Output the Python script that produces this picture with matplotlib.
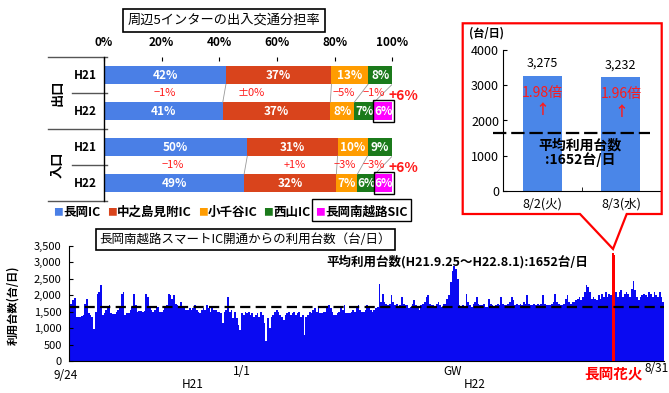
import numpy as np
import pandas as pd
import matplotlib.pyplot as plt
import matplotlib.transforms as mtransforms
from matplotlib.patches import Rectangle, Polygon
from matplotlib.lines import Line2D
from matplotlib.ticker import FuncFormatter

plt.rcParams['font.family'] = ['Noto Sans CJK JP', 'DejaVu Sans']

# 周辺5インターの出入交通分担率 (%)
ic_names = ['長岡IC', '中之島見附IC', '小千谷IC', '西山IC', '長岡南越路SIC']
ic_colors = ['#4a7fe6', '#d9441c', '#ff9c00', '#1b7a1b', '#ff00ff']
group_names = ['出口', '入口']
year_names = ['H21', 'H22']
share_exit_h21 = [42.3, 36.6, 12.7, 8.4, 0.0]
share_exit_h22 = [41.2, 37.3, 8.3, 6.9, 6.3]
share_entry_h21 = [49.7, 31.3, 10.4, 8.6, 0.0]
share_entry_h22 = [48.6, 32.0, 7.3, 6.1, 6.0]

# 長岡花火の2日間
fireworks_days = ['8/2(火)', '8/3(水)']
fireworks_counts = [3275, 3232]
avg_count = 1652

# 開通からの日別利用台数 (H21.9.24 ~ H22.8.31)
start_date = '2009-09-24'
end_date = '2010-08-31'
daily_counts = [
    640, 1750, 1850, 1930, 1350, 1340, 1350, 1370, 1400, 1750,
    1900, 1450, 1400, 1350, 980, 1500, 2050, 2100, 2300, 1400,
    1450, 1550, 1650, 1700, 1450, 1420, 1430, 1500, 1550, 1600,
    2050, 2100, 1400, 1450, 1450, 1550, 1650, 2050, 1700, 1500,
    1520, 1520, 1500, 1520, 2050, 1950, 1600, 1550, 1500, 1550,
    1600, 1650, 1500, 1480, 1550, 1600, 1700, 2050, 2000, 1900,
    2000, 1750, 1700, 1650, 1800, 1650, 1600, 1550, 1550, 1600,
    1550, 1600, 1700, 1550, 1500, 1450, 1550, 1600, 1550, 1700,
    1600, 1500, 1600, 1550, 1550, 1500, 1500, 1450, 1150, 1500,
    1550, 1950, 1500, 1550, 1300, 1500, 1300, 1100, 950, 1450,
    1400, 1500, 1450, 1480, 1400, 1450, 1350, 1400, 1450, 1350,
    1500, 1400, 1150, 600, 1300, 1000, 1350, 1400, 1500, 1550,
    1500, 1400, 1350, 1250, 1400, 1450, 1500, 1400, 1450, 1500,
    1400, 1450, 1500, 1350, 1400, 800, 1350, 1400, 1500, 1450,
    1550, 1600, 1500, 1650, 1450, 1450, 1500, 1500, 1600, 1700,
    1600, 1500, 1400, 1400, 1450, 1500, 1600, 1550, 1700, 1450,
    1450, 1450, 1500, 1550, 1500, 1650, 1700, 1550, 1500, 1500,
    1550, 1700, 1600, 1550, 1500, 1550, 1600, 1650, 2350, 1800,
    2050, 1800, 1750, 1700, 1750, 2000, 1800, 1700, 1750, 1650,
    1700, 1950, 1750, 1700, 1700, 1600, 1650, 1750, 1850, 1700,
    1650, 1550, 1700, 1750, 1800, 1950, 2000, 1750, 1700, 1700,
    1650, 1750, 1800, 1700, 1650, 1750, 1750, 1900, 2000, 2400,
    2750, 2900, 2800, 2500, 1700, 1600, 1700, 1650, 2050, 1800,
    1700, 1650, 1750, 1800, 1950, 1750, 1700, 1700, 1750, 1650,
    1650, 1900, 1750, 1700, 1650, 1700, 1750, 1700, 1950, 1750,
    1700, 1700, 1750, 1800, 1950, 1850, 1700, 1750, 1700, 1750,
    1700, 1800, 1750, 2000, 1750, 1700, 1700, 1750, 1700, 1750,
    1700, 1750, 2000, 1750, 1700, 1700, 1700, 1750, 1800, 2050,
    1800, 1750, 1700, 1700, 1750, 1900, 2000, 1800, 1750, 1800,
    1800, 1850, 1900, 1950, 1850, 1950, 2100, 2300, 2250, 2100,
    1900, 1950, 1900, 1850, 2000, 1900, 2050, 1950, 2100, 1950,
    2050, 2000, 3275, 3232, 2100, 1950, 2100, 2150, 1950, 2050,
    2100, 2050, 1950, 2200, 2450, 2150, 1950, 1850, 1950, 2000,
    2050, 2000, 1950, 2100, 2050, 1950, 2100, 2000, 1950, 2100,
    1950, 1800,
]
highlight_dates = ['2010-08-02', '2010-08-03']
tick_dates = ['2009-09-24', '2010-01-01', '2010-05-02', '2010-08-31']
tick_labels = ['9/24', '1/1', 'GW', '8/31']
year_label_dates = ['2009-12-04', '2010-05-15']
year_labels = ['H21', 'H22']

W, H = 669, 393


def fx(px):
    return px / W


def fy(py):
    return 1 - py / H


fig = plt.figure(figsize=(W / 100, H / 100), dpi=100)

# ---------------- 分担率 ----------------
ax1 = fig.add_axes([fx(104), fy(201), fx(392.3) - fx(104), fy(57.3) - fy(201)])
rows = [share_exit_h21, share_exit_h22, share_entry_h21, share_entry_h22]
for i, shares in enumerate(rows):
    left = 0
    for j, v in enumerate(shares):
        if v > 0:
            ax1.barh(i, v, left=left, height=0.5, color=ic_colors[j], edgecolor='none')
            ax1.text(left + v / 2, i, f'{round(v)}%', ha='center', va='center',
                     color='white', fontsize=8.5, fontweight='bold')
        left += v

diff_x = [[21, 51, 83, 93.5, 104], [24, 66, 83.5, 93.5, 104]]
for g in range(2):
    a, b = rows[2 * g], rows[2 * g + 1]
    ya, yb = 2 * g, 2 * g + 1
    ca, cb = np.cumsum(a), np.cumsum(b)
    for k in range(4):
        ax1.plot([ca[k], cb[k]], [ya + 0.25, yb - 0.25], color='#999999', lw=0.6)
    for k in range(5):
        d = round(b[k]) - round(a[k])
        if d == 0:
            s = '±0%'
        elif d > 0:
            s = f'+{d}%'
        else:
            s = f'−{-d}%'
        if k == 4:
            ax1.text(diff_x[g][k], ya + 0.57, s, ha='center', va='center', color='#ff1a1a',
                     fontsize=10, fontweight='bold', clip_on=False)
        else:
            ax1.text(diff_x[g][k], ya + 0.5, s, ha='center', va='center', color='#ff1a1a',
                     fontsize=8)
    ax1.add_patch(Rectangle((cb[3] - 0.3, yb - 0.31), b[4] + 1.0, 0.62, fill=False,
                            ec='black', lw=1.0, clip_on=False, zorder=5))

ax1.set_xlim(0, 100)
ax1.set_ylim(3.5, -0.5)
ax1.xaxis.tick_top()
ax1.set_xticks(range(0, 101, 20))
ax1.set_xticklabels([f'{v}%' for v in range(0, 101, 20)], fontsize=8.5, fontweight='bold')
ax1.tick_params(axis='x', direction='in', length=3, pad=6)
ax1.set_yticks([])
for s in ['top', 'right', 'bottom']:
    ax1.spines[s].set_visible(False)
ax1.spines['left'].set_linewidth(1.0)

tr = mtransforms.blended_transform_factory(ax1.transAxes, ax1.transData)
for y in [-0.5, 1.5, 3.5]:
    ax1.add_line(Line2D([-0.193, 0.009], [y, y], transform=tr, color='#555555', lw=1.0, clip_on=False))
for y in [0.5, 2.5]:
    ax1.add_line(Line2D([-0.112, 0.009], [y, y], transform=tr, color='#555555', lw=1.0, clip_on=False))
for i in range(4):
    ax1.text(-0.066, i, year_names[i % 2], transform=tr, ha='center', va='center',
             fontsize=8.5, fontweight='bold')
for g in range(2):
    ax1.text(-0.16, 2 * g + 0.5, group_names[g], transform=tr, ha='center', va='center',
             fontsize=9.5, fontweight='bold', rotation=90)

fig.text(fx(224), fy(20.5), '周辺5インターの出入交通分担率', ha='center', va='center', fontsize=9.5,
         bbox=dict(boxstyle='square,pad=0.35', fc='white', ec='black', lw=1.2))

# legend
leg_x = [53, 107, 198, 263, 315]
for x, name, c in zip(leg_x, ic_names, ic_colors):
    fig.text(fx(x), fy(212), '■', color=c, ha='left', va='center', fontsize=7)
    fig.text(fx(x + 10), fy(212), name, ha='left', va='center', fontsize=9, fontweight='bold')
fig.patches.append(Rectangle((fx(312), fy(221)), fx(411) - fx(312), fy(199) - fy(221),
                             transform=fig.transFigure, fill=False, ec='black', lw=1.0))

# ---------------- 長岡花火 inset ----------------
ax2 = fig.add_axes([fx(503.3), fy(191), fx(660) - fx(503.3), fy(50) - fy(191)])
ax2.set_facecolor('none')
xp = np.arange(len(fireworks_counts))
ax2.bar(xp, fireworks_counts, width=0.5, color='#4a86e8')
ax2.set_xlim(-0.5, 1.5)
ax2.set_ylim(0, 4000)
ax2.set_yticks(range(0, 4001, 1000))
ax2.set_xticks(xp)
ax2.set_xticklabels(fireworks_days, fontsize=9)
ax2.set_xticks([0.5], minor=True)
ax2.tick_params(axis='x', which='major', length=0, pad=5)
ax2.tick_params(axis='x', which='minor', length=3, direction='in')
ax2.tick_params(axis='y', direction='in', length=3, labelsize=9, pad=3)
for s in ['top', 'right']:
    ax2.spines[s].set_visible(False)
for i, v in enumerate(fireworks_counts):
    ax2.text(i, v + 350, f'{v:,}', ha='center', va='center', fontsize=9)
    ax2.text(i, v - 490, f'{v / avg_count:.2f}倍', ha='center', va='center', fontsize=10,
             color='#ff1a1a')
    ax2.text(i, v - 980, '↑', ha='center', va='center', fontsize=10, color='#ff1a1a',
             fontweight='bold')
ax2.plot([-0.63, 1.37], [avg_count, avg_count], color='black', lw=1.6,
         dashes=(6, 2.2), clip_on=False)
ax2.text(0.48, 1285, '平均利用台数', ha='center', va='center', fontsize=10, fontweight='bold')
ax2.text(0.48, 880, ':1652台/日', ha='center', va='center', fontsize=10, fontweight='bold')
fig.text(fx(487), fy(33), '(台/日)', ha='center', va='center', fontsize=8, fontweight='bold')

callout = [(462.7, 23.3), (661.7, 23.3), (661.7, 214), (626.7, 214), (613, 249),
           (580, 214), (462.7, 214)]
fig.patches.append(Polygon([(fx(a), fy(b)) for a, b in callout], closed=True,
                           transform=fig.transFigure, fill=False, ec='#ff0000', lw=1.6))

# ---------------- 日別利用台数 ----------------
dates = pd.date_range(start_date, end_date)
ax3 = fig.add_axes([fx(68.7), fy(361), fx(664) - fx(68.7), fy(246) - fy(361)])
days = np.arange(len(dates))
hl = dates.isin(pd.to_datetime(highlight_dates))
colors = np.where(hl, '#ff0000', '#0a0af2')
ax3.bar(days, daily_counts, width=1.0, color=colors, linewidth=0)
ax3.axhline(avg_count, color='black', lw=1.6, dashes=(4.6, 2.4))
ax3.set_xlim(-0.5, len(dates) - 0.5)
ax3.set_ylim(0, 3500)
ax3.set_yticks(range(0, 3501, 500))
ax3.yaxis.set_major_formatter(FuncFormatter(lambda v, p: f'{int(v):,}'))
ax3.tick_params(axis='y', direction='in', length=3, labelsize=8, pad=5)
tick_pos = [dates.get_loc(pd.Timestamp(d)) for d in tick_dates]
ax3.set_xticks(tick_pos)
ax3.set_xticklabels(tick_labels, fontsize=8.5)
ax3.tick_params(axis='x', length=0, pad=3)
first = ax3.get_xticklabels()[0]
first.set_transform(first.get_transform() + mtransforms.ScaledTranslation(-3 / 72, -3 / 72, fig.dpi_scale_trans))
last = ax3.get_xticklabels()[-1]
last.set_transform(last.get_transform() + mtransforms.ScaledTranslation(-5 / 72, 2 / 72, fig.dpi_scale_trans))
for s in ['top', 'right']:
    ax3.spines[s].set_visible(False)

trb = mtransforms.blended_transform_factory(ax3.transData, ax3.transAxes)
for d, lab in zip(year_label_dates, year_labels):
    ax3.text(dates.get_loc(pd.Timestamp(d)), -0.2, lab, transform=trb, ha='center',
             va='center', fontsize=8.5)
red_pos = dates.get_loc(pd.Timestamp(highlight_dates[0])) + 0.5
ax3.text(red_pos, -0.105, '長岡花火', transform=trb, ha='center', va='center', fontsize=10.5,
         fontweight='bold', color='#ff0000')

fig.text(fx(13), fy(305), '利用台数(台/日)', rotation=90, ha='center', va='center',
         fontsize=8, fontweight='bold')
fig.text(fx(457), fy(262), '平均利用台数(H21.9.25～H22.8.1):1652台/日', ha='center', va='center',
         fontsize=9, fontweight='bold')
fig.text(fx(245), fy(239.5), '長岡南越路スマートIC開通からの利用台数（台/日）', ha='center',
         va='center', fontsize=9,
         bbox=dict(boxstyle='square,pad=0.3', fc='white', ec='black', lw=1.2))

fig.savefig('out.png', dpi=100)
